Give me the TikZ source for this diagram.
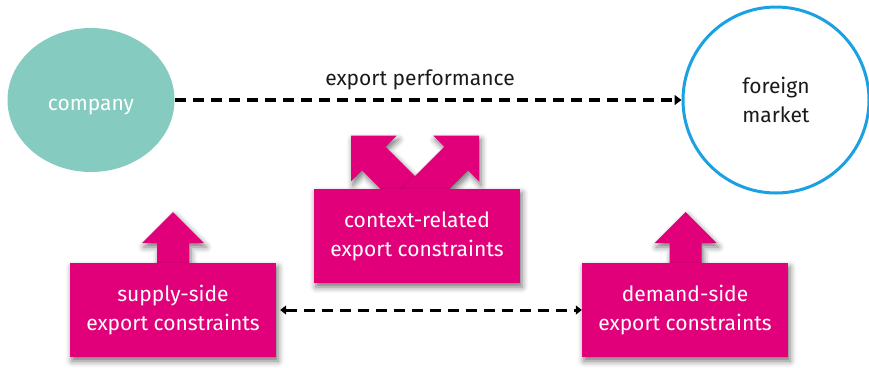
\documentclass[tikz,border=0pt]{standalone}
\usepackage{fontspec}
\setmainfont{Fira Sans}
\usetikzlibrary{shapes.geometric,shadows.blur,arrows.meta}
\definecolor{mag}{RGB}{226,0,122}
\definecolor{teal1}{RGB}{134,203,192}
\definecolor{blue1}{RGB}{27,161,226}
\definecolor{dark1}{RGB}{26,26,26}
\begin{document}
\begin{tikzpicture}[x=1pt,y=-1pt,
  shad/.style={blur shadow={shadow xshift=2pt,shadow yshift=-4pt,shadow blur radius=6pt,shadow opacity=55}},
  cbox/.style={fill=mag,text=white,minimum width=206pt,minimum height=94pt,align=center,
    font=\fontsize{21}{29}\selectfont,inner sep=0pt,shad},
  blockarrow/.style={fill=mag,shad},
  dashline/.style={line width=3.5pt,dash pattern=on 11pt off 7pt,black},
  txt/.style={font=\fontsize{21}{29}\selectfont,text=dark1,align=center}]
\useasboundingbox (0,0) rectangle (869,367);

% block arrows of the context box (drawn first, the box hides their ends)
\fill[blockarrow] (351,135.7) -- (396.7,135.7) -- (385.6,146.7) -- (485.6,246.7)
  -- (462,270.3) -- (362,170.3) -- (351,181.4) -- cycle;
\fill[blockarrow] (479,135.7) -- (433.3,135.7) -- (444.4,146.7) -- (344.4,246.7)
  -- (368,270.3) -- (468,170.3) -- (479,181.4) -- cycle;

\node[cbox] (ctx) at (417,236) {context-related\\export constraints};

% upward block arrows
\coordinate (sup) at (173,263);
\coordinate (dem) at (685.5,263);
\fill[blockarrow] (sup) ++(-16,8) -- ++(0,-28) -- ++(-15,0) -- ++(31,-31) -- ++(31,31)
  -- ++(-15,0) -- ++(0,28) -- cycle;
\fill[blockarrow] (dem) ++(-16,8) -- ++(0,-28) -- ++(-15,0) -- ++(31,-31) -- ++(31,31)
  -- ++(-15,0) -- ++(0,28) -- cycle;

\node[cbox] (supply) at (173,310) {supply-side\\export constraints};
\node[cbox] (demand) at (685,310) {demand-side\\export constraints};

\node[ellipse,fill=teal1,minimum width=167pt,minimum height=144pt,inner sep=0pt,
  text=white,font=\fontsize{21}{29}\selectfont] (company) at (91,100)
  {\raisebox{-10pt}[0pt][0pt]{company}};
\node[circle,draw=blue1,line width=3pt,minimum size=186pt,inner sep=0pt,txt] (market)
  at (776,100) {foreign\\market};

\node[txt] (perf) at (420,80) {export performance};

\draw[dashline,-{Triangle[length=7pt,width=10pt]}] (company) -- (market);
\draw[dashline,line width=3pt,{Triangle[length=6pt,width=9pt]}-{Triangle[length=6pt,width=9pt]},
  shorten <=4pt] (supply) -- (demand);
\end{tikzpicture}
\end{document}
